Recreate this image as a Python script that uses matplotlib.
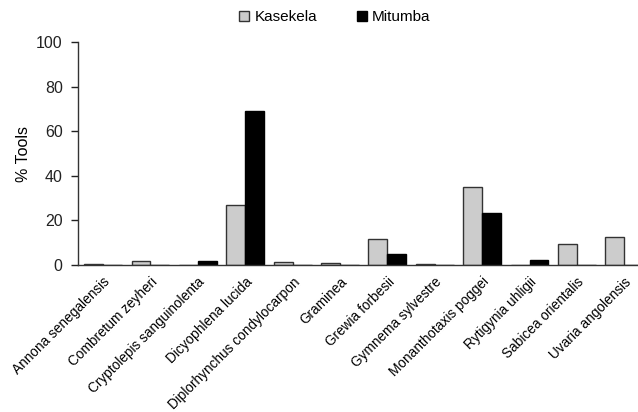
import matplotlib
matplotlib.use("Agg")
import matplotlib.pyplot as plt
import numpy as np

plt.rcParams['font.family'] = ['Liberation Sans', 'DejaVu Sans']

categories = ["Annona senegalensis", "Combretum zeyheri", "Cryptolepis sanguinolenta",
              "Dicyophlena lucida", "Diplorhynchus condylocarpon", "Graminea",
              "Grewia forbesii", "Gymnema sylvestre", "Monanthotaxis poggei",
              "Rytigynia uhligii", "Sabicea orientalis", "Uvaria angolensis"]
kasekela = [0.5, 2.0, 0.0, 27.0, 1.5, 0.8, 11.7, 0.5, 35.2, 0.0, 9.5, 12.6]
mitumba = [0.0, 0.0, 1.8, 69.0, 0.0, 0.0, 5.0, 0.0, 23.3, 2.1, 0.0, 0.0]

fig = plt.figure(figsize=(6.38, 4.12), dpi=100)
ax = fig.add_axes([78/638, (412-265)/412, 1 - 78/638, (265-42)/412])

x = np.arange(len(categories))
w = 0.4
ax.bar(x - w/2, kasekela, w, color='#cccccc', edgecolor='#333333', linewidth=1.0, label='Kasekela')
ax.bar(x + w/2, mitumba, w, color='black', edgecolor='black', linewidth=1.0, label='Mitumba')

ax.set_xlim(-0.53, 11.29)
ax.set_ylim(0, 100)
ax.set_yticks([0, 20, 40, 60, 80, 100])
ax.tick_params(axis='y', labelsize=11.5, direction='out', length=5, width=1, colors='#222222', pad=6)
ax.set_xticks(x)
ax.set_xticklabels(categories, rotation=45, ha='right', rotation_mode='anchor', fontsize=9.8)
ax.tick_params(axis='x', length=0, pad=7)
for s in ['top', 'right']:
    ax.spines[s].set_visible(False)
for s in ['left', 'bottom']:
    ax.spines[s].set_color('#333333')
    ax.spines[s].set_linewidth(1.0)
ax.set_ylabel('% Tools', fontsize=11.5, labelpad=4)

fig.legend(loc='upper center', bbox_to_anchor=(335/638, 1.008), ncol=2, frameon=False,
           fontsize=11, handlelength=0.65, handleheight=0.65, columnspacing=2.6, handletextpad=0.35)

fig.savefig('out.png', dpi=100)
